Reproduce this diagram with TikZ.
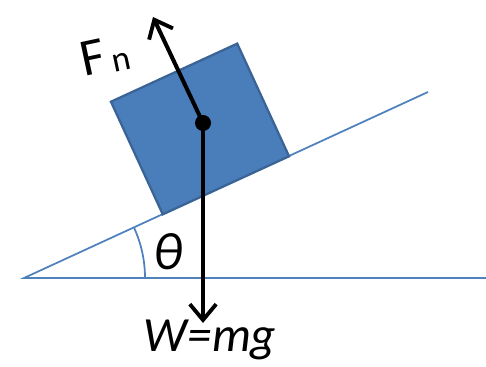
\documentclass[tikz,border=0pt]{standalone}
\usepackage{fontspec}
\setmainfont{Carlito}
\usepackage{tikz}
\usetikzlibrary{positioning,arrows.meta,calc}
\definecolor{mSteel}{HTML}{4F81BD}
\definecolor{mBlock}{HTML}{4A7EBB}
\definecolor{mEdge}{HTML}{3A6496}

\tikzset{
  slopeline/.style={draw=mSteel,line width=1pt},
  blockbox/.style={draw=mEdge,fill=mBlock,line width=1.3pt,minimum width=2.78cm,minimum height=2.48cm,inner sep=0pt},
  force/.style={draw=black,line width=2.3pt,-{Straight Barb[length=9pt,width=15pt,line width=2.2pt]}}
}

\begin{document}
\begin{tikzpicture}[x=0.02cm,y=0.02cm]
\useasboundingbox (0,0) rectangle (486,367);

% incline and ground
\coordinate (base) at (24,89);
\coordinate (top) at (428,275);
\coordinate (far) at (486,89);
\draw[slopeline] (far) -- (base) -- (top);
\draw[slopeline] ($(base)+(121,0)$) arc[start angle=0,end angle=24.7,radius=121];
\node (theta) at (168,115) {\fontsize{30}{34}\selectfont\itshape θ};

% block on the slope
\node[blockbox,rotate=24.7] (box) at (200,238) {};

% forces
\coordinate (cg) at (203,244);
\coordinate (fntip) at (153,350);
\coordinate (wtip) at (203,44);
\draw[force] (cg) -- (fntip);
\draw[force] (cg) -- (wtip);
\fill (cg) circle[radius=8];

\node[rotate=12] (fnlab) at (105,311) {\fontsize{30}{34}\selectfont F\hspace{3pt}\raisebox{-1pt}{\fontsize{20}{22}\selectfont n}};
\node[anchor=base,inner sep=0pt] (wlab) at (210,15) {\fontsize{28}{32}\selectfont\itshape W=mg};
\end{tikzpicture}
\end{document}
